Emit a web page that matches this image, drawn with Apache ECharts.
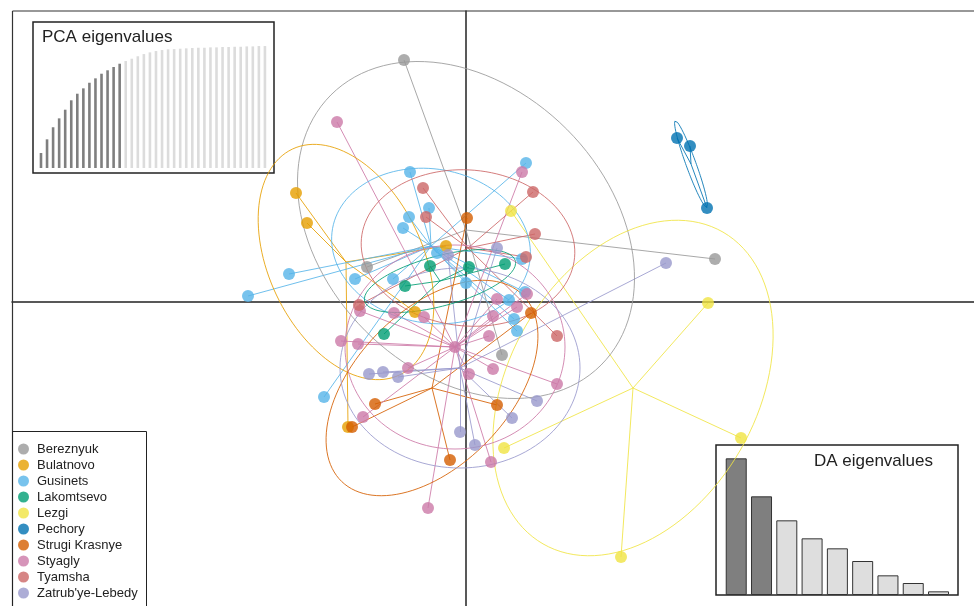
<!DOCTYPE html>
<html>
<head>
<meta charset="utf-8">
<script src="https://cdn.jsdelivr.net/npm/echarts@6/dist/echarts.min.js"></script>
<style>
  html, body { margin: 0; padding: 0; background: #fff; }
  #chart { width: 974px; height: 606px; }
</style>
</head>
<body>
<div id="chart"></div>
<script>
// Population labels and their colours
const groups = ['Bereznyuk', 'Bulatnovo', 'Gusinets', 'Lakomtsevo', 'Lezgi', 'Pechory',
  'Strugi Krasnye', 'Styagly', 'Tyamsha', "Zatrub'ye-Lebedy"];
const colors = ['#999999', '#E69F00', '#56B4E9', '#009E73', '#F0E442', '#0072B2',
  '#D55E00', '#CC79A7', '#CC6666', '#9999CC'];

// Individual coordinates on the discriminant functions [LD1, LD2]
const bereznyuk = [[-0.62, 2.415], [2.49, 0.425], [-0.99, 0.345], [0.36, -0.535]];
const bulatnovo = [[-1.70, 1.085], [-1.59, 0.785], [-0.20, 0.555], [-0.51, -0.105], [-1.18, -1.255]];
const gusinets = [[-0.56, 1.295], [-0.37, 0.935], [-0.57, 0.845], [-0.63, 0.735], [-0.29, 0.485],
  [-1.11, 0.225], [-0.73, 0.225], [-1.77, 0.275], [-2.18, 0.055], [0.00, 0.185], [0.60, 1.385],
  [0.56, 0.425], [0.59, 0.095], [0.43, 0.015], [0.48, -0.175], [0.51, -0.295], [-1.42, -0.955]];
const lakomtsevo = [[-0.36, 0.355], [0.03, 0.345], [-0.61, 0.155], [0.39, 0.375], [-0.82, -0.325]];
const lezgi = [[0.45, 0.905], [2.42, -0.015], [2.75, -1.365], [1.55, -2.555], [0.38, -1.465]];
const pechory = [[2.11, 1.635], [2.24, 1.555], [2.41, 0.935]];
const strugiKrasnye = [[0.01, 0.835], [0.65, -0.115], [-0.91, -1.025], [0.31, -1.035], [-1.14, -1.255], [-0.16, -1.585]];
const styagly = [[-1.29, 1.795], [0.56, 1.295], [0.31, 0.025], [0.61, 0.075], [0.51, -0.055],
  [0.27, -0.145], [0.23, -0.345], [-1.06, -0.095], [-0.72, -0.115], [-0.42, -0.155], [-1.25, -0.395],
  [-1.08, -0.425], [-0.11, -0.455], [0.27, -0.675], [0.03, -0.725], [-0.58, -0.665], [0.91, -0.825],
  [-1.03, -1.155], [0.25, -1.605], [-0.38, -2.065]];
const tyamsha = [[-0.43, 1.135], [-0.40, 0.845], [0.67, 1.095], [0.69, 0.675], [0.60, 0.445], [-1.07, -0.035], [0.91, -0.345]];
const zatrubyeLebedy = [[-0.18, 0.465], [0.31, 0.535], [2.00, 0.385], [-0.97, -0.725], [-0.83, -0.705],
  [-0.68, -0.755], [0.71, -0.995], [0.46, -1.165], [-0.06, -1.305], [0.09, -1.435]];

const groupPoints = [bereznyuk, bulatnovo, gusinets, lakomtsevo, lezgi, pechory,
  strugiKrasnye, styagly, tyamsha, zatrubyeLebedy];

// Group centroids [LD1, LD2]
const centroids = [[0.00, 0.715], [-1.20, 0.395], [-0.35, 0.555], [-0.26, 0.205], [1.67, -0.865],
  [2.25, 1.375], [-0.34, -0.865], [-0.11, -0.455], [0.02, 0.535], [-0.06, -0.665]];
// Inertia ellipses: semi-axes [a, b] and rotation of the major axis (degrees)
const ellipseAxes = [[1.91, 1.425], [1.25, 0.77], [1.00, 0.77], [0.78, 0.25], [1.80, 1.24],
  [0.46, 0.05], [1.30, 0.77], [1.10, 1.02], [1.07, 0.78], [1.20, 1.00]];
const ellipseAngles = [-45, -64.6, -10, 15, 60, -70, 46, 0, -5, 0];

// Eigenvalue insets
const pcaCumVar = [12.3, 23.5, 33.4, 40.7, 47.8, 55.5, 60.9, 65.3, 69.9, 73.5, 77.3, 80.1, 82.8, 85.5,
  87.7, 89.6, 91.6, 93.4, 94.8, 95.9, 96.7, 97.3, 97.5, 97.8, 98.1, 98.4, 98.6, 98.6, 98.9, 98.9,
  99.2, 99.2, 99.4, 99.4, 99.7, 99.7, 100, 100];
const pcaRetained = 14;
const daEigen = [41.0, 29.6, 22.4, 17.0, 14.0, 10.2, 5.9, 3.6, 1.1];
const daRetained = 2;

const FONT = '"Liberation Sans", Arial, sans-serif';

function ellipsePath(c, ax, angDeg) {
  const th = angDeg * Math.PI / 180, ct = Math.cos(th), st = Math.sin(th);
  const out = [];
  for (let k = 0; k <= 120; k++) {
    const t = 2 * Math.PI * k / 120;
    const u = ax[0] * Math.cos(t), v = ax[1] * Math.sin(t);
    out.push([c[0] + u * ct - v * st, c[1] + u * st + v * ct]);
  }
  return out;
}

const series = [];
groups.forEach((g, i) => {
  const col = colors[i], c = centroids[i];
  series.push({
    type: 'lines', coordinateSystem: 'cartesian2d', xAxisIndex: 0, yAxisIndex: 0,
    silent: true, z: 2,
    data: groupPoints[i].map(p => ({ coords: [c, p] })),
    lineStyle: { color: col, width: 1, opacity: 0.85 }
  });
  series.push({
    type: 'line', xAxisIndex: 0, yAxisIndex: 0, silent: true, z: 2,
    showSymbol: false, smooth: false,
    data: ellipsePath(c, ellipseAxes[i], ellipseAngles[i]),
    lineStyle: { color: col, width: 1, opacity: 0.85 }
  });
});
groups.forEach((g, i) => {
  series.push({
    type: 'scatter', name: g, xAxisIndex: 0, yAxisIndex: 0, z: 3,
    symbol: 'circle', symbolSize: 12,
    data: groupPoints[i],
    itemStyle: { color: colors[i], opacity: 0.8 }
  });
});

series.push({
  type: 'bar', xAxisIndex: 1, yAxisIndex: 1, barWidth: 2.6, silent: true,
  data: pcaCumVar.map((v, k) => ({
    value: [k + 1, v],
    itemStyle: { color: k < pcaRetained ? '#7f7f7f' : '#dcdcdc' }
  }))
});
series.push({
  type: 'bar', xAxisIndex: 2, yAxisIndex: 2, barWidth: 21, silent: true,
  data: daEigen.map((v, k) => ({
    value: [k + 1, v],
    itemStyle: { color: k < daRetained ? '#7f7f7f' : '#dedede', borderColor: '#333', borderWidth: 1 }
  }))
});

const hiddenAxis = {
  axisLine: { show: false }, axisTick: { show: false },
  axisLabel: { show: false }, splitLine: { show: false }
};
const mainAxisLine = { show: true, onZero: true, lineStyle: { color: '#222', width: 1.5 } };

const chart = echarts.init(document.getElementById('chart'), null, { renderer: 'canvas' });
chart.setOption({
  animation: false,
  backgroundColor: '#fff',
  title: [
    { text: 'PCA eigenvalues', left: 42, top: 29, padding: 0,
      textStyle: { fontSize: 17, fontWeight: 'normal', color: '#222', fontFamily: FONT } },
    { text: 'DA eigenvalues', right: 41, top: 453, padding: 0,
      textStyle: { fontSize: 17, fontWeight: 'normal', color: '#222', fontFamily: FONT } }
  ],
  legend: {
    data: groups, orient: 'vertical', left: 18, top: 441, padding: 0,
    icon: 'circle', itemWidth: 11, itemHeight: 11, itemGap: 0,
    selectedMode: false,
    textStyle: { fontSize: 13, lineHeight: 16, color: '#222', fontFamily: FONT, padding: [0, 0, 0, 3] }
  },
  graphic: [
    { type: 'line', silent: true, z: 1,
      shape: { x1: 12.5, y1: 11, x2: 974, y2: 11 }, style: { stroke: '#333', lineWidth: 1.2 } },
    { type: 'line', silent: true, z: 1,
      shape: { x1: 12.5, y1: 11, x2: 12.5, y2: 606 }, style: { stroke: '#333', lineWidth: 1.2 } },
    { type: 'rect', silent: true, z: 1,
      shape: { x: 12.5, y: 431.5, width: 134, height: 200 },
      style: { fill: 'none', stroke: '#222', lineWidth: 1 } }
  ],
  grid: [
    { left: 12, top: 11, right: 0, bottom: 0, show: false },
    { left: 33, top: 22, width: 241, height: 151, show: true, borderColor: '#222', borderWidth: 1.5, backgroundColor: 'transparent' },
    { left: 716, top: 445, width: 242, height: 150, show: true, borderColor: '#222', borderWidth: 1.5, backgroundColor: 'transparent' }
  ],
  xAxis: [
    Object.assign({ type: 'value', gridIndex: 0, min: -4.54, max: 5.08 }, hiddenAxis, { axisLine: mainAxisLine }),
    Object.assign({ type: 'value', gridIndex: 1, min: -0.32, max: 39.5 }, hiddenAxis),
    Object.assign({ type: 'value', gridIndex: 2, min: 0.2, max: 9.77 }, hiddenAxis)
  ],
  yAxis: [
    Object.assign({ type: 'value', gridIndex: 0, min: -3.045, max: 2.905 }, hiddenAxis, { axisLine: mainAxisLine }),
    Object.assign({ type: 'value', gridIndex: 1, min: -4.1, max: 119.7 }, hiddenAxis),
    Object.assign({ type: 'value', gridIndex: 2, min: 0, max: 45 }, hiddenAxis)
  ],
  series: series
});
</script>
</body>
</html>
